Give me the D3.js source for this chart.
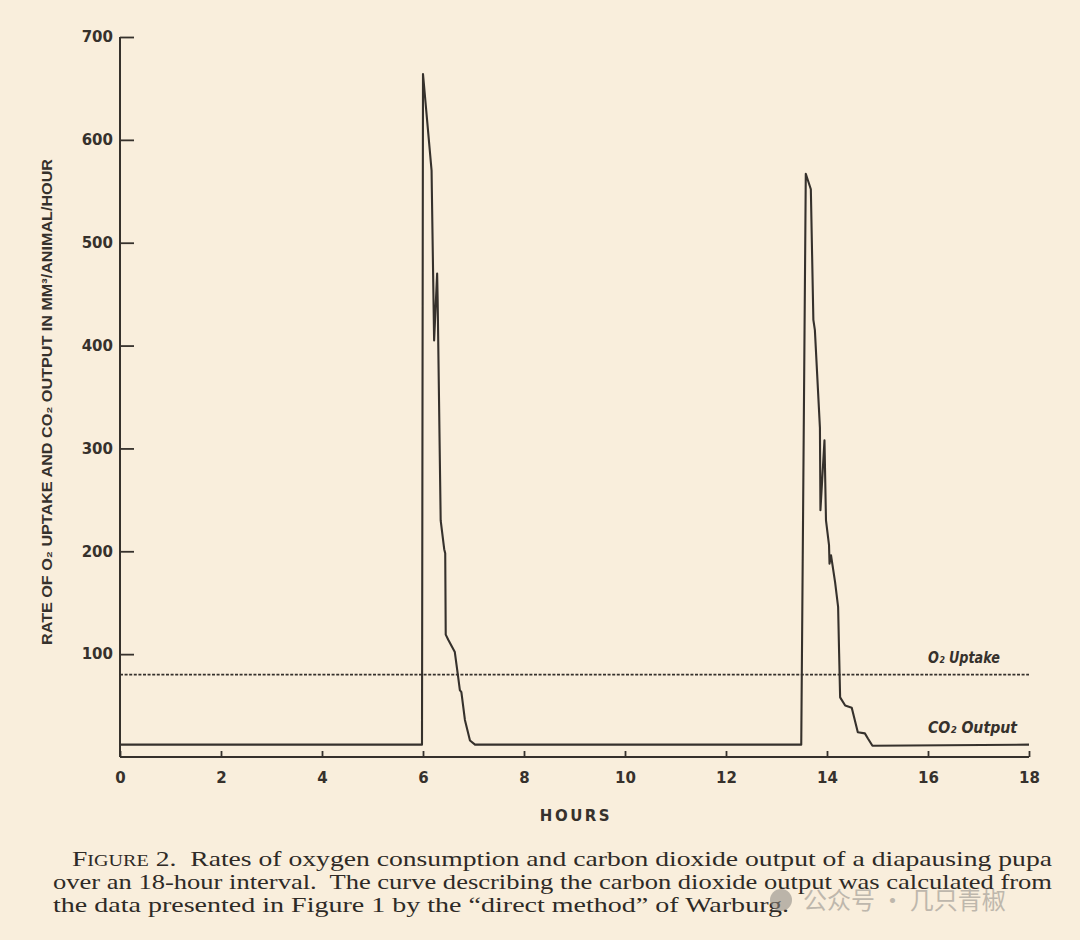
<!DOCTYPE html>
<html>
<head>
<meta charset="utf-8">
<script src="https://cdn.jsdelivr.net/npm/d3@7"></script>
<style>
  html, body { margin: 0; padding: 0; background: #f9eedc; }
  svg { display: block; }
</style>
</head>
<body>
<svg id="chart" width="1080" height="940"></svg>
<script>
// ---- data ----
const co2Hours = [0, 5.98, 6.00, 6.17, 6.175, 6.22, 6.28, 6.29, 6.35, 6.42, 6.44, 6.45, 6.50, 6.63, 6.69, 6.73, 6.76, 6.83, 6.93, 7.03,
                  13.49, 13.58, 13.62, 13.68, 13.73, 13.76, 13.86, 13.87, 13.95, 13.98, 14.04, 14.05, 14.08, 14.16, 14.22, 14.24, 14.26,
                  14.36, 14.49, 14.55, 14.61, 14.75, 14.81, 14.90, 18];
const co2Values = [12, 12, 664, 570, 552, 405, 470, 445, 230, 202, 198, 119, 114, 102, 80, 65, 63, 36, 16, 12,
                   12, 567, 561, 552, 425, 415, 320, 240, 308, 230, 206, 188, 196, 170, 146, 101, 58,
                   50, 48, 36, 24, 23, 18, 11, 12];
const o2Hours = [0, 18];
const o2Values = [80, 80];
const xTicks = [0, 2, 4, 6, 8, 10, 12, 14, 16, 18];
const yTicks = [100, 200, 300, 400, 500, 600, 700];
const seriesLabels = ["O\u2082 Uptake", "CO\u2082 Output"];
const xTitle = "HOURS";
const yTitle = "RATE OF O\u2082 UPTAKE AND CO\u2082 OUTPUT IN MM\u00B3/ANIMAL/HOUR";
const captionLines = [
  ["F", "IGURE", " 2.  Rates of oxygen consumption and carbon dioxide output of a diapausing pupa"],
  ["over an 18-hour interval.  The curve describing the carbon dioxide output was calculated from"],
  ["the data presented in Figure 1 by the \u201Cdirect method\u201D of Warburg."]
];
const watermark = "公众号 · 几只青椒";

// ---- layout ----
const ink = "#36312c";
const svg = d3.select("#chart");
svg.append("rect").attr("width", 1080).attr("height", 940).attr("fill", "#f9eedc");

const x = d3.scaleLinear().domain([0, 18]).range([120, 1029]);
const y = d3.scaleLinear().domain([0, 700]).range([757, 37]);

// x axis
const xAxis = svg.append("g").attr("transform", `translate(0,${y(0)})`)
  .call(d3.axisBottom(x).tickValues(xTicks).tickSizeInner(-6).tickSizeOuter(0).tickPadding(15).tickFormat(d3.format("d")));
// y axis
const yAxis = svg.append("g").attr("transform", `translate(${x(0)},0)`)
  .call(d3.axisLeft(y).tickValues(yTicks).tickSizeInner(-14).tickSizeOuter(0).tickPadding(7).tickFormat(d3.format("d")));

[xAxis, yAxis].forEach(g => {
  g.select(".domain").attr("stroke", ink).attr("stroke-width", 2);
  g.selectAll(".tick line").attr("stroke", ink).attr("stroke-width", 1.8);
  g.selectAll(".tick text").attr("fill", ink)
    .style("font-family", "'DejaVu Sans', sans-serif").style("font-weight", "bold").style("font-size", "15px");
});
yAxis.select(".domain").attr("d", `M0,${y(700)}V${y(0)}`);
xAxis.select(".domain").attr("d", `M${x(0)},0H${x(18)}`);

// O2 uptake dotted line
const line = d3.line().x(d => x(d[0])).y(d => y(d[1]));
svg.append("path")
  .datum(o2Hours.map((h, i) => [h, o2Values[i]]))
  .attr("d", line).attr("fill", "none").attr("stroke", ink)
  .attr("stroke-width", 1.8).attr("stroke-dasharray", "3,1.6");

// CO2 output line
svg.append("path")
  .datum(co2Hours.map((h, i) => [h, co2Values[i]]))
  .attr("d", line).attr("fill", "none").attr("stroke", ink)
  .attr("stroke-width", 2.1).attr("stroke-linejoin", "round");

// legend labels
const legendFont = "'DejaVu Sans', sans-serif";
svg.append("text").attr("x", x(16)).attr("y", y(o2Values[1]) - 12)
  .attr("textLength", 72).attr("lengthAdjust", "spacingAndGlyphs")
  .attr("fill", ink).style("font-family", legendFont).style("font-style", "italic").style("font-weight", "bold")
  .style("font-size", "15px").text(seriesLabels[0]);
svg.append("text").attr("x", x(16)).attr("y", y(co2Values[co2Values.length - 1]) - 12)
  .attr("textLength", 89).attr("lengthAdjust", "spacingAndGlyphs")
  .attr("fill", ink).style("font-family", legendFont).style("font-style", "italic").style("font-weight", "bold")
  .style("font-size", "15px").text(seriesLabels[1]);

// axis titles
svg.append("text").attr("x", 576).attr("y", 821).attr("text-anchor", "middle")
  .attr("fill", ink).style("font-family", "'DejaVu Sans', sans-serif").style("font-weight", "bold")
  .style("font-size", "15px").style("letter-spacing", "2.5px").text(xTitle);

svg.append("text")
  .attr("transform", "translate(52,402) rotate(-90)")
  .attr("text-anchor", "middle")
  .attr("textLength", 486).attr("lengthAdjust", "spacingAndGlyphs")
  .attr("fill", ink).style("font-family", "'Liberation Sans Narrow', 'Liberation Sans', sans-serif")
  .style("font-weight", "bold").style("font-size", "15px").text(yTitle);

// caption
const capFont = "'Liberation Serif', 'DejaVu Serif', serif";
const capSpecs = [
  { x: 72, y: 866, len: 980 },
  { x: 53, y: 889, len: 999 },
  { x: 53, y: 912, len: 736 }
];
captionLines.forEach((parts, i) => {
  const t = svg.append("text").attr("x", capSpecs[i].x).attr("y", capSpecs[i].y)
    .attr("textLength", capSpecs[i].len).attr("lengthAdjust", "spacingAndGlyphs")
    .attr("fill", "#2e2a26").style("font-family", capFont).style("font-size", "22px")
    .attr("xml:space", "preserve");
  if (parts.length === 3) {
    t.append("tspan").text(parts[0]);
    t.append("tspan").style("font-size", "16px").text(parts[1]);
    t.append("tspan").text(parts[2]);
  } else {
    t.text(parts[0]);
  }
});

// watermark
const wm = svg.append("g").attr("opacity", 0.55);
wm.append("circle").attr("cx", 781).attr("cy", 900).attr("r", 11).attr("fill", "#8a8680");
wm.append("text").attr("x", 803).attr("y", 909).attr("fill", "#8f8b86")
  .style("font-family", "'Noto Sans CJK SC', sans-serif").style("font-size", "24px").text(watermark);
</script>
</body>
</html>
